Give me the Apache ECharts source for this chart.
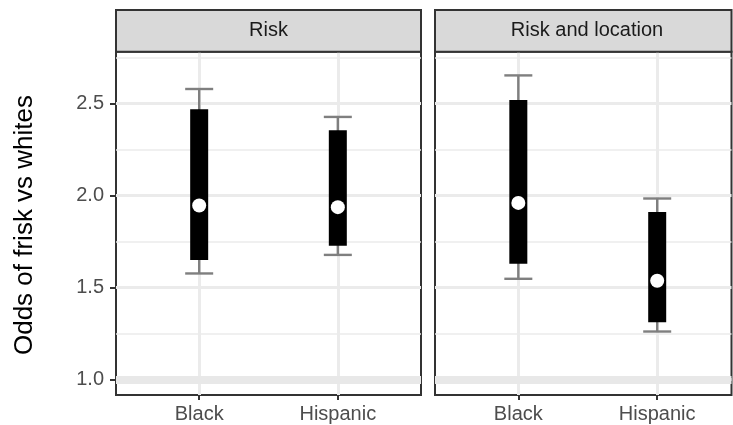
<!DOCTYPE html>
<html>
<head>
<meta charset="utf-8">
<script src="https://cdn.jsdelivr.net/npm/echarts@6/dist/echarts.min.js"></script>
<style>
  html, body { margin: 0; padding: 0; background: #fff; }
  #chart { width: 733px; height: 425px; }
</style>
</head>
<body>
<div id="chart"></div>
<script>
// Groups compared against whites, and the two model specifications
const groups = ['Black', 'Hispanic'];
const panelNames = ['Risk', 'Risk and location'];

// Model "Risk": outer interval, inner interval and point estimate
const riskOuterLow  = [1.576, 1.677];
const riskOuterHigh = [2.580, 2.428];
const riskInnerLow  = [1.649, 1.727];
const riskInnerHigh = [2.470, 2.355];
const riskEstimate  = [1.946, 1.937];

// Model "Risk and location"
const locOuterLow  = [1.547, 1.260];
const locOuterHigh = [2.654, 1.984];
const locInnerLow  = [1.629, 1.310];
const locInnerHigh = [2.520, 1.910];
const locEstimate  = [1.960, 1.536];

// Axis ticks and reference value (odds ratio of 1)
const yTicks = [1.0, 1.5, 2.0, 2.5];
const yMinorTicks = [1.25, 1.75, 2.25, 2.75];
const referenceValue = 1;

const FONT = "'Liberation Sans', Arial, Helvetica, sans-serif";
const panelData = [
  { low: riskOuterLow, high: riskOuterHigh, ilow: riskInnerLow, ihigh: riskInnerHigh, est: riskEstimate },
  { low: locOuterLow, high: locOuterHigh, ilow: locInnerLow, ihigh: locInnerHigh, est: locEstimate }
];

// layout of the two facet panels (pixels)
const panels = [
  { left: 116, width: 305, xMax: 2.6, stripCenter: 268.5 },
  { left: 435, width: 296.5, xMax: 2.535, stripCenter: 587 }
];
const panelTop = 51.7, panelBottom = 30, stripTop = 10;
const xPos = groups.map((g, i) => i + 1);

const grids = panels.map(p => ({
  left: p.left, width: p.width, top: panelTop, bottom: panelBottom,
  show: true, backgroundColor: '#ffffff', borderColor: '#333333', borderWidth: 2,
  containLabel: false
}));

const xAxes = panels.map((p, i) => ({
  type: 'value', gridIndex: i, min: 0.4, max: p.xMax,
  axisLine: { show: false },
  splitLine: { show: false },
  axisTick: { show: true, customValues: xPos, length: 5, lineStyle: { color: '#333333', width: 2 } },
  axisLabel: {
    show: true, customValues: xPos, margin: 9,
    formatter: v => groups[Math.round(v) - 1] || '',
    fontSize: 20, color: '#4d4d4d', fontFamily: FONT
  }
}));

const yAxes = panels.map((p, i) => ({
  type: 'value', gridIndex: i, min: 0.9145, max: 2.783,
  axisLine: { show: false },
  splitLine: { show: false },
  axisTick: { show: i === 0, customValues: yTicks, length: 6, lineStyle: { color: '#333333', width: 2 } },
  axisLabel: {
    show: i === 0, customValues: yTicks, margin: 12,
    formatter: v => v.toFixed(1),
    fontSize: 20, color: '#4d4d4d', fontFamily: FONT
  }
}));

const series = [];
panels.forEach((p, i) => {
  const d = panelData[i];
  // background grid lines and the reference band at 1
  const lines = [];
  yMinorTicks.forEach(v => lines.push({ yAxis: v, lineStyle: { color: '#ebebeb', width: 1.6, type: 'solid' } }));
  yTicks.forEach(v => lines.push({ yAxis: v, lineStyle: { color: '#ebebeb', width: 3, type: 'solid' } }));
  xPos.forEach(v => lines.push({ xAxis: v, lineStyle: { color: '#ebebeb', width: 3, type: 'solid' } }));
  lines.push({ yAxis: referenceValue, lineStyle: { color: '#e8e8e8', width: 8, type: 'solid' } });
  series.push({
    type: 'line', xAxisIndex: i, yAxisIndex: i, data: [], z: 1, silent: true,
    markLine: { z: 1, symbol: ['none', 'none'], silent: true, label: { show: false }, animation: false, data: lines }
  });

  // outer interval: whisker with caps
  series.push({
    type: 'custom', xAxisIndex: i, yAxisIndex: i, z: 6, silent: true,
    data: xPos.map((x, k) => [x, d.low[k], d.high[k]]),
    renderItem: (params, api) => {
      const lo = api.coord([api.value(0), api.value(1)]);
      const hi = api.coord([api.value(0), api.value(2)]);
      const half = 14;
      const style = { stroke: '#7f7f7f', lineWidth: 2.4 };
      return {
        type: 'group', children: [
          { type: 'line', shape: { x1: lo[0], y1: lo[1], x2: hi[0], y2: hi[1] }, style },
          { type: 'line', shape: { x1: lo[0] - half, y1: lo[1], x2: lo[0] + half, y2: lo[1] }, style },
          { type: 'line', shape: { x1: hi[0] - half, y1: hi[1], x2: hi[0] + half, y2: hi[1] }, style }
        ]
      };
    }
  });

  // inner interval: thick black bar
  series.push({
    type: 'custom', xAxisIndex: i, yAxisIndex: i, z: 7, silent: true,
    data: xPos.map((x, k) => [x, d.ilow[k], d.ihigh[k]]),
    renderItem: (params, api) => {
      const lo = api.coord([api.value(0), api.value(1)]);
      const hi = api.coord([api.value(0), api.value(2)]);
      const w = 18;
      return {
        type: 'rect',
        shape: { x: lo[0] - w / 2, y: hi[1], width: w, height: lo[1] - hi[1] },
        style: { fill: '#000000' }
      };
    }
  });

  // point estimate
  series.push({
    type: 'scatter', xAxisIndex: i, yAxisIndex: i, z: 8, silent: true,
    symbol: 'circle', symbolSize: 14,
    itemStyle: { color: '#ffffff', borderWidth: 0, opacity: 1 },
    data: xPos.map((x, k) => [x, d.est[k]])
  });
});

// facet strips
const graphics = [];
panels.forEach((p, i) => {
  graphics.push({
    type: 'rect', z: 10,
    shape: { x: p.left, y: stripTop, width: p.width, height: panelTop - stripTop },
    style: { fill: '#d9d9d9', stroke: '#333333', lineWidth: 2 }
  });
  graphics.push({
    type: 'text', z: 11,
    x: p.stripCenter, y: (stripTop + panelTop) / 2,
    style: { text: panelNames[i], fill: '#1a1a1a', font: '20px ' + FONT, align: 'center', verticalAlign: 'middle' }
  });
});
// y axis title
graphics.push({
  type: 'text', z: 11, x: 24.5, y: 225, rotation: Math.PI / 2,
  style: { text: 'Odds of frisk vs whites', fill: '#000000', font: '26px ' + FONT, align: 'center', verticalAlign: 'middle' }
});

const chart = echarts.init(document.getElementById('chart'), null, { renderer: 'canvas' });
chart.setOption({
  animation: false,
  backgroundColor: '#ffffff',
  grid: grids,
  xAxis: xAxes,
  yAxis: yAxes,
  series: series,
  graphic: graphics
});
</script>
</body>
</html>
